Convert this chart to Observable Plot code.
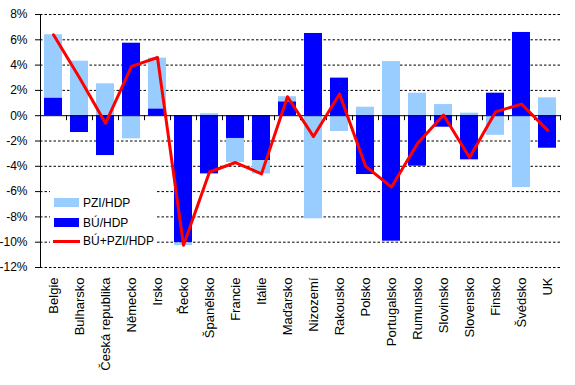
<!DOCTYPE html>
<html>
<head>
<meta charset="utf-8">
<script src="https://cdn.jsdelivr.net/npm/d3@7"></script>
<script src="https://cdn.jsdelivr.net/npm/@observablehq/plot@0.6"></script>
<style>
  html, body { margin: 0; padding: 0; background: #fff; }
  #wrap { position: relative; width: 575px; height: 385px; font-family: "Liberation Sans", Arial, sans-serif; }
  #legend { position: absolute; left: 50px; top: 187px; width: 107px; height: 62px; background: #fff; }
  .sw { position: absolute; }
  .lt { position: absolute; font-size: 12px; line-height: 12px; color: #000; white-space: nowrap; }
</style>
</head>
<body>
<div id="wrap"></div>
<script>
const countries = ["Belgie","Bulharsko","Česká republika","Německo","Irsko","Řecko","Španělsko","Francie","Itálie","Maďarsko","Nizozemí","Rakousko","Polsko","Portugalsko","Rumunsko","Slovinsko","Slovensko","Finsko","Švédsko","UK"];
const bu    = [1.4, -1.33, -3.15, 5.73, 0.54, -10.05, -4.6, -1.8, -3.55, 1.1, 6.5, 2.97, -4.65, -9.92, -3.99, -0.91, -3.49, 1.78, 6.58, -2.57];
const pzi   = [5.0, 4.31, 2.52, -1.83, 4.01, -0.22, 0.15, -1.9, -1.05, 0.4, -8.15, -1.25, 0.67, 4.28, 1.78, 0.88, 0.2, -1.55, -5.68, 1.41];
const total = [6.4, 3.0, -0.6, 3.9, 4.6, -10.25, -4.45, -3.7, -4.6, 1.5, -1.65, 1.72, -3.98, -5.64, -2.2, 0.05, -3.3, 0.3, 0.92, -1.14];
const yTicks = [-12, -10, -8, -6, -4, -2, 0, 2, 4, 6, 8];
const seriesNames = ["BÚ/HDP", "PZI/HDP", "BÚ+PZI/HDP"];
const seriesColors = ["#0000FF", "#99CCFF", "#FF0000"];

const rows = [
  ...countries.map((c, i) => ({country: c, value: bu[i], series: seriesNames[0]})),
  ...countries.map((c, i) => ({country: c, value: pzi[i], series: seriesNames[1]}))
];
const lineRows = countries.map((c, i) => ({country: c, value: total[i]}));

const chart = Plot.plot({
  width: 575,
  height: 385,
  marginLeft: 40,
  marginRight: 14,
  marginTop: 14,
  marginBottom: 118,
  style: {fontFamily: "'Liberation Sans', Arial, sans-serif", color: "#000", background: "#fff"},
  x: {domain: countries, paddingInner: 0.3, paddingOuter: 0.15, label: null},
  y: {domain: [-12, 8], label: null},
  color: {domain: seriesNames.slice(0, 2), range: seriesColors.slice(0, 2)},
  marks: [
    Plot.gridY(yTicks.filter(d => d !== 0), {stroke: "#000", strokeOpacity: 1, strokeDasharray: "2.5,2"}),
    Plot.barY(rows, {x: "country", y: "value", fill: "series"}),
    Plot.ruleY([0], {stroke: "#000", strokeWidth: 1}),
    Plot.ruleX(countries.slice(1), {x: d => d, y1: 0, y2: 0, dx: -13, insetBottom: -5, stroke: "#000"}),
    Plot.ruleX([countries[countries.length - 1]], {x: d => d, y1: 0, y2: 0, dx: 13, insetBottom: -5, stroke: "#000"}),
    Plot.ruleX([countries[0]], {x: d => d, y1: -12, y2: 8, dx: -13, stroke: "#000"}),
    Plot.line(lineRows, {x: "country", y: "value", stroke: seriesColors[2], strokeWidth: 3}),
    Plot.axisY({ticks: yTicks, tickFormat: d => `${d}%`, tickSize: 5, tickPadding: 8, fontSize: 12, label: null}),
    Plot.axisX({tickRotate: -90, tickSize: 0, tickPadding: 10, fontSize: 13, label: null})
  ]
});
const wrap = document.getElementById("wrap");
wrap.appendChild(chart);

const legend = document.createElement("div");
legend.id = "legend";
const items = [
  {name: seriesNames[1], color: seriesColors[1], kind: "bar", top: 11},
  {name: seriesNames[0], color: seriesColors[0], kind: "bar", top: 31},
  {name: seriesNames[2], color: seriesColors[2], kind: "line", top: 53}
];
items.forEach(it => {
  const sw = document.createElement("div");
  sw.className = "sw";
  if (it.kind === "bar") {
    sw.style.cssText = `left:4px;top:${it.top}px;width:25px;height:9px;background:${it.color}`;
  } else {
    sw.style.cssText = `left:3px;top:${it.top}px;width:27px;height:3px;background:${it.color}`;
  }
  legend.appendChild(sw);
  const t = document.createElement("div");
  t.className = "lt";
  t.textContent = it.name;
  t.style.left = "33px";
  t.style.top = (it.kind === "bar" ? it.top - 1 : it.top - 5) + "px";
  legend.appendChild(t);
});
wrap.appendChild(legend);
</script>
</body>
</html>
